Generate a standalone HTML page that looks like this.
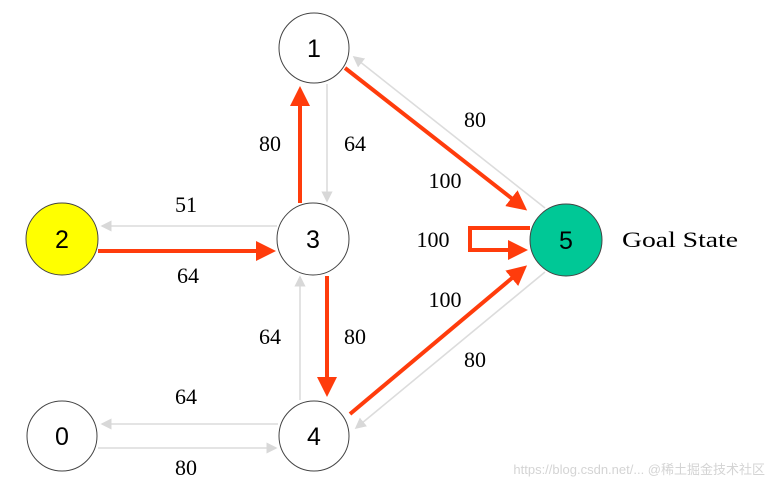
<!DOCTYPE html>
<html><head><meta charset="utf-8"><style>body{margin:0;background:#fff}svg{display:block}</style></head><body>
<svg width="771" height="494" viewBox="0 0 771 494" xmlns="http://www.w3.org/2000/svg">
<defs>
<marker id="r" markerWidth="5" markerHeight="5" refX="4" refY="2.5" orient="auto" markerUnits="strokeWidth"><path d="M0,0 L5,2.5 L0,5 z" fill="#ff3c0c"/></marker>
<marker id="g" markerWidth="7" markerHeight="7" refX="6" refY="3.5" orient="auto" markerUnits="strokeWidth"><path d="M0,0 L7,3.5 L0,7 z" fill="#d8d8d8"/></marker>
</defs>
<g stroke="#dcdcdc" stroke-width="1.6" fill="none" marker-end="url(#g)">
<line x1="277" y1="226" x2="102" y2="226"/>
<line x1="327" y1="84" x2="327" y2="201"/>
<line x1="300" y1="400" x2="300" y2="277"/>
<line x1="278" y1="424" x2="102" y2="424"/>
<line x1="98" y1="448" x2="276" y2="448"/>
<line x1="545" y1="208" x2="354" y2="57"/>
<line x1="545" y1="272" x2="356" y2="428"/>
</g>
<g stroke="#ff3c0c" stroke-width="4" fill="none" marker-end="url(#r)">
<line x1="98" y1="251" x2="272" y2="251"/>
<line x1="300" y1="203" x2="300" y2="90"/>
<line x1="327" y1="276" x2="327" y2="393"/>
<line x1="345" y1="68" x2="524" y2="208"/>
<line x1="350" y1="414" x2="524" y2="268"/>
<polyline points="530,228 470,228 470,250 524,250"/>
</g>
<g stroke="#444" stroke-width="1">
<circle cx="314" cy="48" r="35" fill="#fff"/>
<circle cx="313" cy="239" r="36" fill="#fff"/>
<circle cx="62" cy="239" r="36" fill="#ffff00"/>
<circle cx="566" cy="240" r="36" fill="#00c896"/>
<circle cx="62" cy="436" r="35" fill="#fff"/>
<circle cx="314" cy="436" r="35" fill="#fff"/>
</g>
<g font-family="Liberation Sans, sans-serif" font-size="25" text-anchor="middle" fill="#000">
<text x="314" y="57">1</text><text x="313" y="248">3</text><text x="62" y="248">2</text>
<text x="566" y="249">5</text><text x="62" y="445">0</text><text x="314" y="445">4</text>
</g>
<g font-family="Liberation Serif, serif" font-size="22" text-anchor="middle" fill="#000">
<text x="186" y="212">51</text><text x="188" y="283">64</text>
<text x="270" y="151">80</text><text x="355" y="151">64</text>
<text x="475" y="127">80</text><text x="445" y="188">100</text>
<text x="433" y="247">100</text><text x="445" y="307">100</text>
<text x="475" y="367">80</text><text x="270" y="344">64</text>
<text x="355" y="344">80</text><text x="186" y="404">64</text>
<text x="186" y="475">80</text>
<text x="622" y="247" text-anchor="start" textLength="116" lengthAdjust="spacingAndGlyphs">Goal State</text>
</g>
<text x="765" y="474" text-anchor="end" font-family="Liberation Sans, Noto Sans CJK SC, sans-serif" font-size="13" fill="#d4d4d4">https://blog.csdn.net/...  @稀土掘金技术社区</text>
</svg>
</body></html>
